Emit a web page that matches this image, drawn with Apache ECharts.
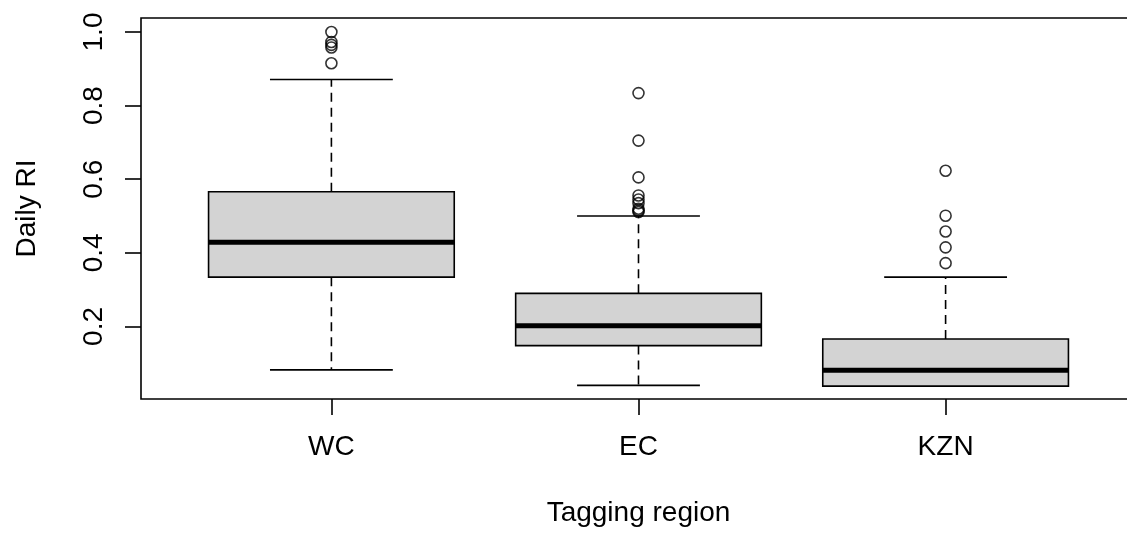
<!DOCTYPE html>
<html>
<head>
<meta charset="utf-8">
<title>Daily RI by tagging region</title>
<script src="https://cdn.jsdelivr.net/npm/echarts@6/dist/echarts.min.js"></script>
<style>
  html, body { margin: 0; padding: 0; background: #fff; overflow: hidden; }
  /* the plot frame runs past the right edge of the picture, as in the original */
  #chart { width: 1137px; height: 533px; }
</style>
</head>
<body>
<div id="chart"></div>
<script>
// groups, in plotting order (x positions 1..3)
var categories = ['WC', 'EC', 'KZN']
var positions = [1, 2, 3]

// five-number summaries
var lowWhisker = [0.082, 0.040, 0.038]
var lowerQuart = [0.334, 0.148, 0.038]
var medians = [0.429, 0.202, 0.081]
var upperQuart = [0.566, 0.290, 0.166]
var highWhisker = [0.871, 0.500, 0.334]

// outlying points of each group
var outWC = [1.0, 0.973, 0.965, 0.958, 0.915]
var outEC = [0.834, 0.705, 0.605, 0.556, 0.545, 0.535, 0.52, 0.515, 0.511]
var outKZN = [0.623, 0.501, 0.458, 0.415, 0.372]

var yTicks = [0.2, 0.4, 0.6, 0.8, 1.0]

var boxRows = positions.map(function(p, i) {
  return [p, lowWhisker[i], lowerQuart[i], medians[i], upperQuart[i], highWhisker[i]]
})
var outlierPoints = []
;[outWC, outEC, outKZN].forEach(function(list, i) {
  list.forEach(function(v) { outlierPoints.push([positions[i], v]) })
})

var ink = '#000'
var lw = 1.6

function renderBox(params, api) {
  var x = api.value(0)
  var lo = api.coord([x, api.value(1)])
  var q1 = api.coord([x, api.value(2)])
  var md = api.coord([x, api.value(3)])
  var q3 = api.coord([x, api.value(4)])
  var hi = api.coord([x, api.value(5)])
  var half = api.size([0.4, 0])[0]   // boxwex 0.8
  var cap = api.size([0.2, 0])[0]    // staple half width
  var cx = q1[0]
  return {
    type: 'group',
    children: [
      { type: 'line', shape: { x1: cx, y1: q3[1], x2: cx, y2: hi[1] },
        style: { stroke: ink, lineWidth: lw, lineDash: [9, 6] } },
      { type: 'line', shape: { x1: cx, y1: q1[1], x2: cx, y2: lo[1] },
        style: { stroke: ink, lineWidth: lw, lineDash: [9, 6] } },
      { type: 'line', shape: { x1: cx - cap, y1: hi[1], x2: cx + cap, y2: hi[1] },
        style: { stroke: ink, lineWidth: lw } },
      { type: 'line', shape: { x1: cx - cap, y1: lo[1], x2: cx + cap, y2: lo[1] },
        style: { stroke: ink, lineWidth: lw } },
      { type: 'rect', shape: { x: cx - half, y: q3[1], width: half * 2, height: q1[1] - q3[1] },
        style: { fill: '#d3d3d3', stroke: ink, lineWidth: lw } },
      { type: 'line', shape: { x1: cx - half, y1: md[1], x2: cx + half, y2: md[1] },
        style: { stroke: ink, lineWidth: 5 } }
    ]
  }
}

var font = 'Liberation Sans, Arial, sans-serif'
var chart = echarts.init(document.getElementById('chart'))
chart.setOption({
  animation: false,
  backgroundColor: '#fff',
  grid: {
    left: 141,
    top: 18,
    right: 1,
    bottom: 134,
    show: true,
    borderColor: ink,
    borderWidth: lw,
    backgroundColor: 'transparent'
  },
  xAxis: {
    type: 'value',
    min: 0.38,
    max: 3.62,
    name: 'Tagging region',
    nameLocation: 'middle',
    nameGap: 100,
    nameTextStyle: { fontFamily: font, fontSize: 28, color: ink },
    axisLine: { show: false },
    splitLine: { show: false },
    axisTick: { show: true, length: 16, lineStyle: { color: ink, width: lw }, customValues: positions },
    axisLabel: {
      margin: 34,
      fontFamily: font,
      fontSize: 28,
      color: ink,
      customValues: positions,
      formatter: function(v) { return categories[Math.round(v) - 1] }
    }
  },
  yAxis: {
    type: 'value',
    min: 0.003,
    max: 1.038,
    name: 'Daily RI',
    nameLocation: 'middle',
    nameGap: 100,
    nameRotate: 90,
    nameTextStyle: { fontFamily: font, fontSize: 28, color: ink },
    axisLine: { show: false },
    splitLine: { show: false },
    axisTick: { show: true, length: 16, lineStyle: { color: ink, width: lw }, customValues: yTicks },
    axisLabel: {
      rotate: 90,
      margin: 33,
      fontFamily: font,
      fontSize: 28,
      color: ink,
      customValues: yTicks,
      formatter: function(v) { return v.toFixed(1) }
    }
  },
  series: [
    {
      type: 'custom',
      renderItem: renderBox,
      encode: { x: 0, y: [1, 2, 3, 4, 5] },
      data: boxRows,
      z: 2
    },
    {
      type: 'scatter',
      data: outlierPoints,
      symbol: 'circle',
      symbolSize: 11,
      itemStyle: { color: 'rgba(0,0,0,0)', borderColor: ink, borderWidth: lw },
      z: 3
    }
  ]
})
</script>
</body>
</html>
